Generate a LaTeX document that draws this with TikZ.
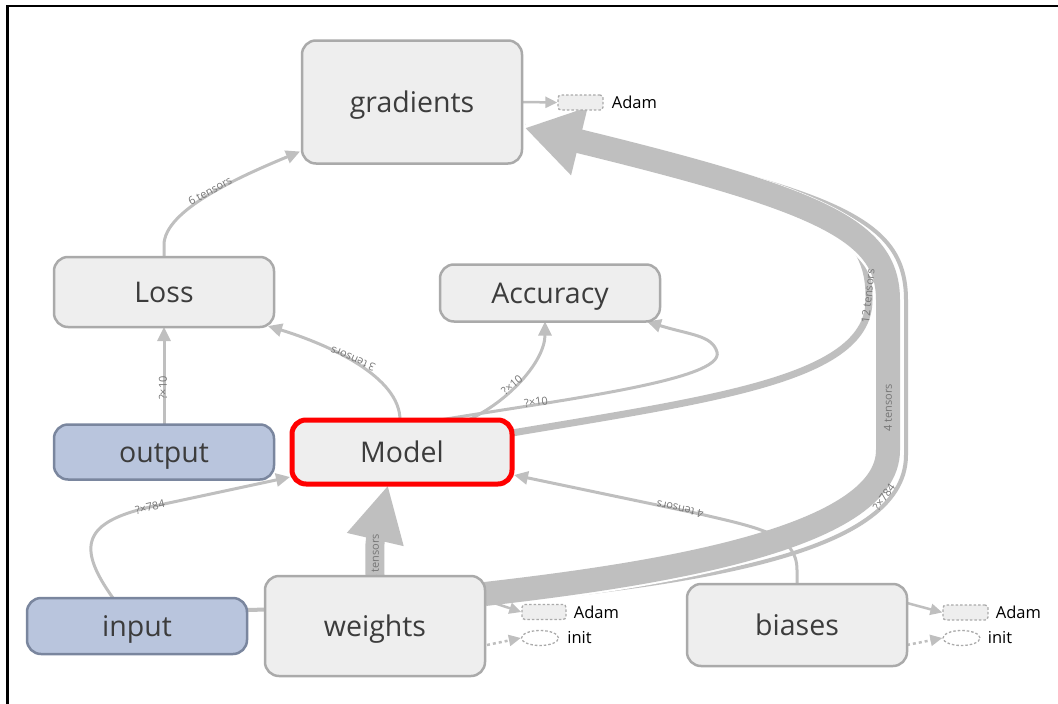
\documentclass[tikz,border=0pt]{standalone}
\usepackage{fontspec}
\setmainfont{Open Sans}
\usetikzlibrary{arrows.meta,calc,shapes.geometric}
\pgfdeclarelayer{edges}
\pgfsetlayers{edges,main}

\definecolor{edgegray}{RGB}{191,191,191}
\definecolor{nodefill}{RGB}{238,238,238}
\definecolor{nodeline}{RGB}{170,170,170}
\definecolor{bluefill}{RGB}{185,197,221}
\definecolor{blueline}{RGB}{122,134,158}
\definecolor{textgray}{RGB}{60,60,60}
\definecolor{labelgray}{RGB}{118,118,118}

\tikzset{
  opnode/.style={draw=nodeline, fill=nodefill, line width=2.5pt, rounded corners=14pt,
    minimum width=220pt, inner sep=0pt, outer sep=0pt, text=textgray,
    text height=20pt, text depth=0pt,
    font=\fontsize{28.5}{32}\selectfont},
  datanode/.style={opnode, draw=blueline, fill=bluefill},
  focusnode/.style={opnode, draw=red, line width=5pt},
  flow/.style={draw=edgegray, line width=3pt, -{Triangle[length=14pt,width=13pt]}},
  aux/.style={draw=edgegray, line width=2.5pt, -{Triangle[length=12pt,width=11pt]}},
  auxdot/.style={aux, dash pattern=on 3pt off 3pt},
  band/.style={draw=edgegray, line width=#1,
    preaction={draw=white, line width=#1+4pt, -}},
  tag/.style={font=\fontsize{11}{12}\selectfont, text=labelgray, inner sep=0pt},
  adambox/.style={draw=nodeline, fill=nodefill, dash pattern=on 2.5pt off 2pt,
    line width=1.3pt, rounded corners=3pt, minimum width=45pt, minimum height=15pt,
    inner sep=0pt},
  initring/.style={ellipse, draw=nodeline, dash pattern=on 2.5pt off 2pt,
    line width=1.3pt, minimum width=37pt, minimum height=15pt, inner sep=0pt},
  sidetext/.style={font=\fontsize{16.5}{18}\selectfont, text=black, anchor=west,
    inner sep=0pt},
}

\begin{document}
\begin{tikzpicture}[x=1pt,y=-1pt]
\useasboundingbox (0,0) rectangle (1058,704);

% operation and data nodes
\node[opnode, minimum height=123pt] (gradients) at (412,102) {gradients};
\node[opnode, minimum height=70pt]  (loss)      at (164,292) {Loss};
\node[opnode, minimum height=57pt]  (accuracy)  at (550,293) {Accuracy};
\node[datanode, minimum height=55pt] (output)   at (164,452) {output};
\node[focusnode, minimum height=64pt] (model)   at (402,452) {Model};
\node[datanode, minimum height=56pt] (input)    at (137,626) {input};
\node[opnode, minimum height=100pt] (weights)   at (375,626) {weights};
\node[opnode, minimum height=82pt]  (biases)    at (797,625) {biases};

% optimizer and initializer stubs
\node[adambox] (gadam) at (580.5,102.5) {};
\node[sidetext] (gadamtxt) at ($(gadam.east)+(8,0)$) {Adam};
\node[adambox, minimum width=44pt] (wadam) at (544,612) {};
\node[sidetext] (wadamtxt) at ($(wadam.east)+(7,0)$) {Adam};
\node[initring] (winit) at (540,638) {};
\node[sidetext] (winittxt) at ($(winit.east)+(8,0)$) {init};
\node[adambox] (badam) at (965.5,612.5) {};
\node[sidetext] (badamtxt) at ($(badam.east)+(7,0)$) {Adam};
\node[initring] (binit) at (961.5,638) {};
\node[sidetext] (binittxt) at ($(binit.east)+(7,0)$) {init};

\begin{pgfonlayer}{edges}
  % thin data-flow edges
  \draw[flow] (loss.north) -- ++(0,-12)
    .. controls +(0,-35) and +(-60,25) .. ($(gradients.south west)+(-2,-12)$);
  \draw[flow] (output.north) -- (loss.south);
  \draw[flow] ($(model.north)+(-2,0)$)
    .. controls +(0,-43) and +(62,19) .. ($(loss.south east)+(-6,-1)$);
  \draw[flow] ($(input.north)+(-24,0)$)
    .. controls (75,545) and (85,522) .. (150,507) -- ($(model.south west)+(-2,-7)$);
  \draw[flow] ($(model.north)+(66,0)$)
    .. controls +(40,-18) and +(0,40) .. ($(accuracy.south)+(-5,0)$);
  \draw[flow] ($(model.north)+(38,0)$)
    .. controls (560,400) and (725,380) .. (717,352)
    .. controls (712,335) and (690,335) .. ($(accuracy.south east)+(-13,0)$);

  % weights into the model
  \draw[draw=edgegray, line width=19pt, -{Triangle[length=56pt,width=54pt]}]
    (weights.north) .. controls (375,556) and (374,545) .. ($(model.south)+(-14,1)$);

  % gradient bands
  \draw[band=7pt, -{Triangle[length=30pt,width=30pt]}]
    ($(model.east)+(0,-19)$) .. controls (720,398) and (869,378) .. (869,300)
    .. controls (870,230) and (830,200) .. ($(gradients.east)+(3,26)$);
  \draw[band=4pt, -{Triangle[length=14pt,width=13pt]}]
    ($(input.east)+(0,-16)$) -- ($(weights.east)+(2,-22)$)
    .. controls (670,584) and (906,560) .. (906,455) -- (906,300)
    .. controls (906,215) and (830,190) .. ($(gradients.east)+(3,22)$);
  \draw[band=24pt, -{Triangle[length=56pt,width=66pt]}]
    ($(weights.east)+(0,-32)$) .. controls (650,575) and (888,540) .. (888,450)
    -- (888,300) .. controls (888,230) and (820,200) .. ($(gradients.east)+(3,26)$);

  % bias edge crosses over the bands
  \draw[flow] (biases.north) -- ++(0,-14)
    .. controls +(0,-35) and +(60,14) .. (700,514) -- ($(model.south east)+(2,-9)$);

  % optimizer and initializer stubs
  \draw[aux] (gradients.east) -- (gadam.west);
  \draw[aux] ($(weights.east)+(0,-26)$) -- (wadam.west);
  \draw[auxdot] ($(weights.east)+(2,19)$) -- (winit.west);
  \draw[aux] ($(biases.east)+(0,-22)$) -- (badam.west);
  \draw[auxdot] ($(biases.east)+(0,20)$) -- (binit.west);

  % edge labels
  \node[tag, rotate=28]  (t1)  at (210,191) {6 tensors};
  \node[tag, rotate=90]  (t2)  at (163,388) {?×10};
  \node[tag, rotate=157] (t3)  at (353,359) {3 tensors};
  \node[tag, rotate=13]  (t4)  at (150,507) {?×784};
  \node[tag, rotate=90]  (t5)  at (375,558) {4 tensors};
  \node[tag, rotate=40]  (t6)  at (512,385) {?×10};
  \node[tag, rotate=8]   (t7)  at (536,402) {?×10};
  \node[tag, rotate=168] (t8)  at (680,509) {4 tensors};
  \node[tag, rotate=84]  (t9)  at (868,296) {12 tensors};
  \node[tag, rotate=90]  (t10) at (888,408) {4 tensors};
  \node[tag, rotate=55]  (t11) at (884,497) {?×784};
\end{pgfonlayer}

% frame lines along the top and left
\draw[line width=2.6pt] (1058,6) -- (7.6,6) -- (7.6,704);
\end{tikzpicture}
\end{document}
